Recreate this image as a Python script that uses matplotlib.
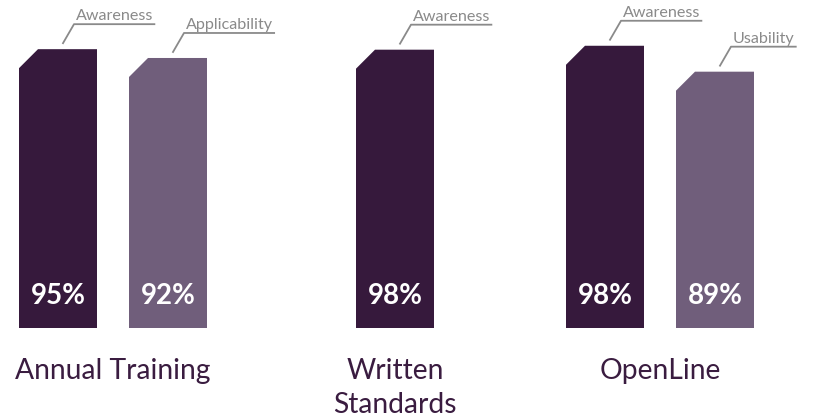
import matplotlib.pyplot as plt
from matplotlib.patches import Polygon
from matplotlib.lines import Line2D

# data
groups = ["Annual Training", "Written\nStandards", "OpenLine"]
bar_values = [[95, 92], [98], [98, 89]]
bar_labels = [["Awareness", "Applicability"], ["Awareness"], ["Awareness", "Usability"]]
# each panel is its own little chart with its own scale (px per percent)
px_per_pct = [2.935, 2.84, 2.88]

dark = "#36193c"
light = "#705e7b"
text_col = "#3a1c40"
note_col = "#8a8a8a"

W, H = 816, 417
fig = plt.figure(figsize=(W / 100, H / 100), dpi=100)

base_px = 328          # baseline, px from top
slot = 110             # px between bar centres
bar_w = 78 / slot
group_cx = [113, 395, 660]
chamfer = 19           # px

axes = []
for gi, vals in enumerate(bar_values):
    ax_h = base_px
    ax = fig.add_axes([(group_cx[gi] - slot) / W, (H - base_px) / H, 2 * slot / W, ax_h / H])
    ax.set_xlim(-1, 1)
    ax.set_ylim(0, ax_h / px_per_pct[gi])
    ax.axis("off")
    n = len(vals)
    xs = [i - (n - 1) / 2 for i in range(n)]
    cx = chamfer / slot
    cy = chamfer / px_per_pct[gi]
    for i, (x, v) in enumerate(zip(xs, vals)):
        col = dark if i == 0 else light
        x0, x1 = x - bar_w / 2, x + bar_w / 2
        poly = Polygon([(x0, 0), (x0, v - cy), (x0 + cx, v), (x1, v), (x1, 0)],
                       closed=True, facecolor=col, edgecolor="none")
        ax.add_patch(poly)
        ax.annotate(f"{v}%", xy=(x, 0), xytext=(0, 32), textcoords="offset pixels",
                    ha="center", va="center", color="white", fontsize=20,
                    fontweight="bold", family="Lato")
    ax.text(0, -30 / px_per_pct[gi], groups[gi], ha="center", va="top",
            fontsize=20.3, color=text_col, family="Lato", linespacing=1.38)
    axes.append((ax, xs, vals))

fig.canvas.draw()
renderer = fig.canvas.get_renderer()

# leader lines + small labels above each bar
for gi, (ax, xs, vals) in enumerate(axes):
    for i, (x, v) in enumerate(zip(xs, vals)):
        px, py = ax.transData.transform((x - bar_w / 2, v))
        sx, sy = px + 44, py + 6
        kx, ky = sx + 11, sy + 19
        t = fig.text(kx + 2, ky + 4, bar_labels[gi][i], transform=None,
                     ha="left", va="baseline", fontsize=11.6, color=note_col,
                     family="Lato")
        bb = t.get_window_extent(renderer)
        fig.add_artist(Line2D([sx, kx, bb.x1 + 1], [sy, ky, ky], transform=None,
                              color=note_col, lw=1.3))

fig.savefig("out.png", dpi=100)
